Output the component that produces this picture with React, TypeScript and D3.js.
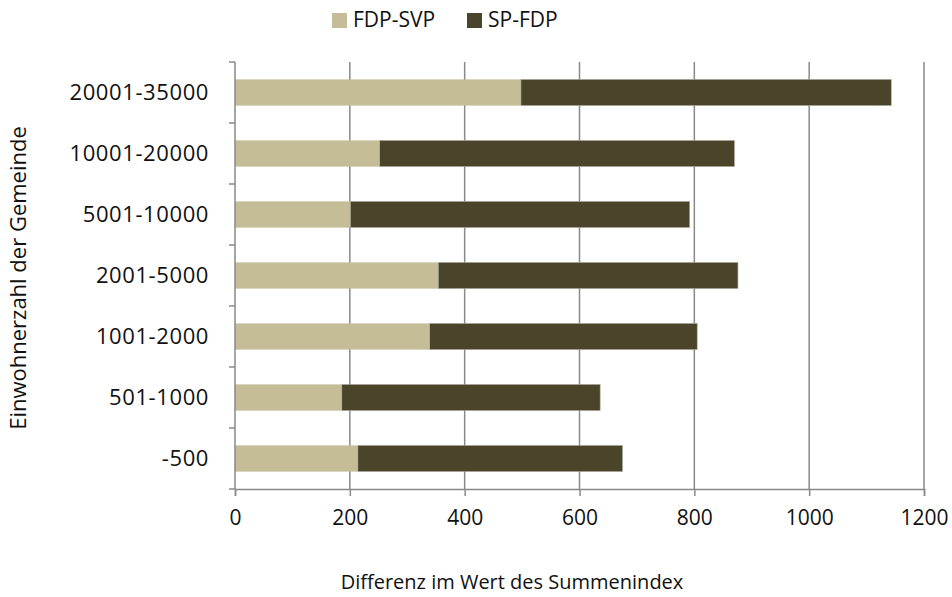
import * as d3 from "d3";
import { useEffect, useRef } from "react";

const categories = ["20001-35000", "10001-20000", "5001-10000", "2001-5000", "1001-2000", "501-1000", "-500"];
const fdpSvp = [498, 252, 201, 354, 339, 186, 214];
const spFdp = [645, 618, 591, 522, 466, 450, 461];
const xTicks = [0, 200, 400, 600, 800, 1000, 1200];
const seriesNames = ["FDP-SVP", "SP-FDP"];
const colors = ["#c4bd97", "#4a452a"];

const FONT = "'Open Sans', sans-serif";

function drawChart(svgElement) {
  const width = 952;
  const height = 597;
  const margin = { top: 62, right: 28, bottom: 108, left: 235 };
  const svg = d3.select(svgElement);

  svg.selectAll("*").remove();
  svg.attr("width", width).attr("height", height);

  const x = d3.scaleLinear().domain([0, 1200]).range([margin.left, width - margin.right]);
  const y = d3
    .scaleBand()
    .domain(categories)
    .range([margin.top, height - margin.bottom])
    .paddingInner(0.57)
    .paddingOuter(0.285);

  const bottom = height - margin.bottom;
  const gridColor = "#898989";

  // vertical gridlines
  svg
    .append("g")
    .selectAll("line")
    .data(xTicks.slice(1))
    .join("line")
    .attr("x1", (d) => x(d))
    .attr("x2", (d) => x(d))
    .attr("y1", margin.top)
    .attr("y2", bottom)
    .attr("stroke", gridColor)
    .attr("stroke-width", 1.5);

  const rows = categories.map((cat, i) => ({ cat, a: fdpSvp[i], b: spFdp[i] }));

  svg
    .append("g")
    .selectAll("rect")
    .data(rows)
    .join("rect")
    .attr("x", x(0))
    .attr("y", (d) => y(d.cat))
    .attr("width", (d) => x(d.a) - x(0))
    .attr("height", y.bandwidth())
    .attr("fill", colors[0]);

  svg
    .append("g")
    .selectAll("rect")
    .data(rows)
    .join("rect")
    .attr("x", (d) => x(d.a))
    .attr("y", (d) => y(d.cat))
    .attr("width", (d) => x(d.a + d.b) - x(d.a))
    .attr("height", y.bandwidth())
    .attr("fill", colors[1])
    .attr("stroke", "#b5b2a6")
    .attr("stroke-width", 0.6);

  // x axis
  const xAxis = svg
    .append("g")
    .attr("transform", `translate(0,${bottom})`)
    .call(d3.axisBottom(x).tickValues(xTicks).tickFormat(d3.format("d")).tickSize(7).tickPadding(14));
  xAxis.select(".domain").attr("stroke", gridColor).attr("stroke-width", 1.5);
  xAxis.selectAll(".tick line").attr("stroke", gridColor).attr("stroke-width", 1.5);
  xAxis
    .selectAll("text")
    .attr("font-family", FONT)
    .attr("font-size", 21)
    .attr("fill", "#111");

  // y axis: line and ticks at the category boundaries
  const step = y.step();
  const boundaries = categories.map((cat) => y(cat) - (step - y.bandwidth()) / 2);
  boundaries.push(boundaries[boundaries.length - 1] + step);

  svg
    .append("line")
    .attr("x1", x(0))
    .attr("x2", x(0))
    .attr("y1", margin.top)
    .attr("y2", bottom)
    .attr("stroke", gridColor)
    .attr("stroke-width", 1.5);

  svg
    .append("g")
    .selectAll("line")
    .data(boundaries)
    .join("line")
    .attr("x1", x(0) - 6)
    .attr("x2", x(0))
    .attr("y1", (d) => d)
    .attr("y2", (d) => d)
    .attr("stroke", gridColor)
    .attr("stroke-width", 1.5);

  svg
    .append("g")
    .selectAll("text")
    .data(categories)
    .join("text")
    .attr("x", x(0) - 26)
    .attr("y", (d) => y(d) + y.bandwidth() / 2)
    .attr("dy", "0.35em")
    .attr("text-anchor", "end")
    .attr("font-family", FONT)
    .attr("font-size", 22)
    .attr("letter-spacing", 0.6)
    .attr("fill", "#111")
    .text((d) => d);

  // axis titles
  svg
    .append("text")
    .attr("x", 512)
    .attr("y", 582)
    .attr("dy", "0.35em")
    .attr("text-anchor", "middle")
    .attr("font-family", FONT)
    .attr("font-size", 20)
    .attr("fill", "#111")
    .text("Differenz im Wert des Summenindex");

  svg
    .append("text")
    .attr("transform", `translate(18,278) rotate(-90)`)
    .attr("dy", "0.35em")
    .attr("text-anchor", "middle")
    .attr("font-family", FONT)
    .attr("font-size", 22)
    .attr("fill", "#111")
    .text("Einwohnerzahl der Gemeinde");

  // legend
  const legendItems = [
    { name: seriesNames[0], color: colors[0], x: 332 },
    { name: seriesNames[1], color: colors[1], x: 467 },
  ];
  const legend = svg.append("g");
  legendItems.forEach((item) => {
    legend
      .append("rect")
      .attr("x", item.x)
      .attr("y", 13)
      .attr("width", 15)
      .attr("height", 15)
      .attr("fill", item.color);
    legend
      .append("text")
      .attr("x", item.x + 21)
      .attr("y", 20)
      .attr("dy", "0.35em")
      .attr("font-family", FONT)
      .attr("font-size", 21)
      .attr("fill", "#111")
      .text(item.name);
  });
}

export default function App() {
  const svgRef = useRef(null);

  useEffect(() => {
    drawChart(svgRef.current);
  }, []);

  return (
    <svg
      ref={svgRef}
      style={{ position: "absolute", left: 0, top: 0, background: "#fff" }}
      role="img"
      aria-label="Differenz im Wert des Summenindex nach Einwohnerzahl der Gemeinde"
    />
  );
}
